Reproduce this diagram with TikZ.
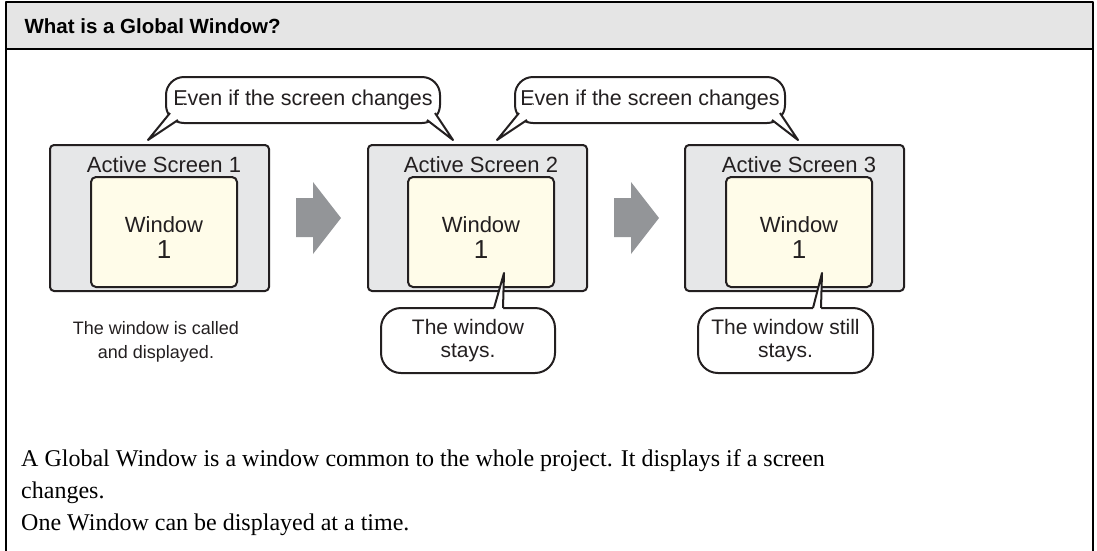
\documentclass[tikz,border=0pt]{standalone}
\usepackage{fontspec}
\setmainfont{Liberation Serif}
\newfontfamily\arial{Liberation Sans}
\definecolor{titlegray}{HTML}{E5E5E5}
\definecolor{screengray}{HTML}{E6E7E8}
\definecolor{cream}{HTML}{FFFCE9}
\definecolor{arrowgray}{HTML}{939598}
\definecolor{txt}{HTML}{231F20}
\begin{document}
\begin{tikzpicture}[x=1pt,y=-1pt,line join=round,
  screenbox/.style={draw=txt,line width=2pt,fill=screengray,rounded corners=4pt,minimum width=219pt,minimum height=146pt,inner sep=0pt},
  winbox/.style={draw=txt,line width=2pt,fill=cream,rounded corners=5pt,minimum width=146pt,minimum height=110pt,inner sep=0pt},
  lbl/.style={anchor=base,text=txt,font=\arial\fontsize{22}{26}\selectfont},
  numlbl/.style={anchor=base,text=txt,font=\arial\fontsize{26}{30}\selectfont},
  topbub/.style={draw=txt,line width=2pt,fill=white,rounded corners=18pt,minimum height=46pt,inner sep=0pt,text=txt,font=\arial\fontsize{21.5}{25}\selectfont},
  botbub/.style={draw=txt,line width=2pt,fill=white,rounded corners=20pt,minimum width=174pt,minimum height=65pt,inner sep=0pt,text=txt,align=center,font=\arial\fontsize{21}{23}\selectfont},
  tailline/.style={draw=txt,line width=2pt},
  bigarrow/.style={fill=arrowgray}
]
\useasboundingbox (0,0) rectangle (1097,550);
% frame and title bar
\fill[titlegray] (6,2) rectangle (1093,49);
\draw[line width=2.5pt] (6,552) -- (6,2) -- (1093,2) -- (1093,552);
\draw[line width=2.5pt] (6,49) -- (1093,49);
\node[anchor=base west,font=\arial\bfseries\fontsize{20.5}{25}\selectfont] (title) at (21,33) {What is a Global Window?};

% screens
\node[screenbox] (s1) at (159.5,218) {};
\node[screenbox] (s2) at (477.5,218) {};
\node[screenbox] (s3) at (794.5,218) {};
\node[winbox] (w1) at (164,232) {};
\node[winbox] (w2) at (481,232) {};
\node[winbox] (w3) at (799,232) {};
\node[lbl] (l1) at (164,172) {Active Screen 1};
\node[lbl] (l2) at (481,172) {Active Screen 2};
\node[lbl] (l3) at (799,172) {Active Screen 3};
\node[lbl] (wt1) at (164,232) {Window};
\node[lbl] (wt2) at (481,232) {Window};
\node[lbl] (wt3) at (799,232) {Window};
\node[numlbl] (n1) at (164,258) {1};
\node[numlbl] (n2) at (481,258) {1};
\node[numlbl] (n3) at (799,258) {1};

% gray arrows
\fill[bigarrow] (296,198) -- (313,198) -- (313,182) -- (341,218) -- (313,254) -- (313,237) -- (296,237) -- cycle;
\fill[bigarrow] (614,198) -- (631,198) -- (631,182) -- (659,218) -- (631,254) -- (631,237) -- (614,237) -- cycle;

% top bubbles
\node[topbub,minimum width=274pt] (b1) at (303,100) {Even if the screen changes};
\fill[white] (170,113) -- (148,140) -- (178,120) -- (184,104) -- cycle;
\draw[tailline] (170,113) -- (148,140) -- (178,120);
\fill[white] (435,113) -- (453,140) -- (427,120) -- (422,104) -- cycle;
\draw[tailline] (435,113) -- (453,140) -- (427,120);

\node[topbub,minimum width=270pt] (b2) at (650,100) {Even if the screen changes};
\fill[white] (519,113) -- (497,140) -- (527,120) -- (533,104) -- cycle;
\draw[tailline] (519,113) -- (497,140) -- (527,120);
\fill[white] (780,113) -- (798,140) -- (772,120) -- (767,104) -- cycle;
\draw[tailline] (780,113) -- (798,140) -- (772,120);

% bottom bubbles
\node[botbub] (b3) at (468,340.5) {The window\\stays.};
\fill[white] (494,308) -- (504,273) -- (503,308) -- (503,314) -- (494,314) -- cycle;
\draw[tailline] (494,308) -- (504,273) -- (503,308);

\node[botbub,minimum width=175pt] (b4) at (785.5,340.5) {The window still\\stays.};
\fill[white] (813,308) -- (822,273) -- (821,308) -- (821,314) -- (813,314) -- cycle;
\draw[tailline] (813,308) -- (822,273) -- (821,308);

% left caption (base anchor = last line)
\node[anchor=base,align=center,text=txt,font=\arial\fontsize{18}{24}\selectfont] (cap1) at (156,358) {The window is called\\and displayed.};

% bottom explanation (base anchor = last line)
\node[anchor=base west,align=left,inner sep=0pt,font=\fontsize{24}{32}\selectfont] (expl) at (21,530) {A Global Window is a window common to the whole project. It displays if a screen\\changes.\\One Window can be displayed at a time.};
\end{tikzpicture}
\end{document}
